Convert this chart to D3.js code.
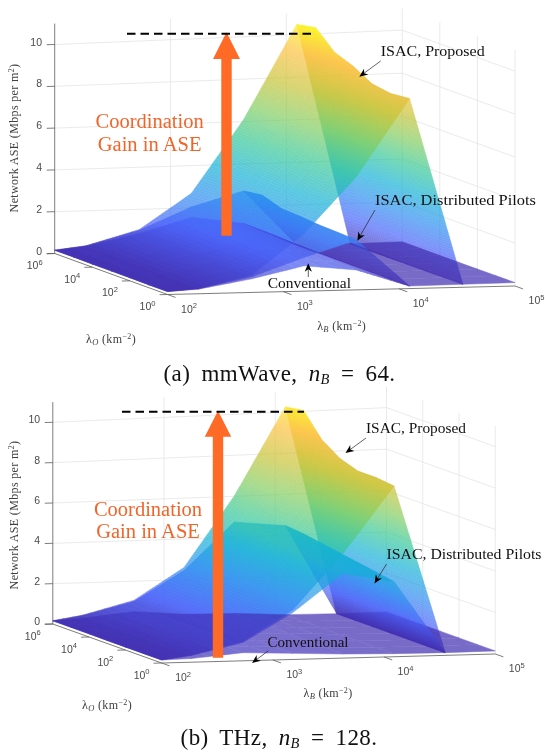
<!DOCTYPE html>
<html><head><meta charset="utf-8">
<script src="https://cdn.jsdelivr.net/npm/d3@7"></script>
<style>html,body{margin:0;padding:0;background:#fff}svg{display:block;filter:blur(0.3px)}</style>
</head><body>
<svg id="chart" width="545" height="752"></svg>
<script>
// ---- data ----
const lambdaB = [100, 186, 537, 1514, 4266, 12300, 35500, 100000];
const lambdaO = [1e6, 1e5, 1e4, 1e3, 1e2, 1e1, 1e0];
const zTicks = [0, 2, 4, 6, 8, 10];
const bTicks = [1e2, 1e3, 1e4, 1e5];
const oTicks = [1e0, 1e2, 1e4, 1e6];
const colormapStops = ["#3e26a8","#4760f9","#2b8cf0","#12b0d6","#33c796","#80cc5e","#c7c233","#fcbf3d","#f9fb14"];

// rows follow lambdaO, columns follow lambdaB
const mmProposed = [
 [.16,.33,1.04,2.69,6.09,10.47,.12,.15],
 [.16,.32,1.02,2.75,6.00,10.64,.12,.15],
 [.15,.31,1.00,2.80,5.90, 9.81,.12,.15],
 [.15,.30, .95,2.80,5.80, 9.47,.13,.15],
 [.15,.28, .90,2.80,5.60, 8.97,.13,.15],
 [.14,.26, .87,2.75,5.45, 8.83,.14,.16],
 [.14,.25, .83,2.73,5.33, 8.92,.14,.16]];
const mmDistributed = [
 [.16,.33,1.00,2.05,2.73,.12,.15,.15],
 [.16,.32, .98,2.00,2.85,.12,.15,.15],
 [.15,.30, .95,1.95,2.55,.12,.15,.15],
 [.15,.30, .90,1.85,2.50,.12,.14,.15],
 [.15,.28, .85,1.75,2.42,.12,.14,.15],
 [.14,.26, .80,1.68,2.39,.12,.14,.16],
 [.14,.24, .75,1.60,2.35,.12,.14,.16]];
const mmConventional = [
 [.16,.30,.85,1.55,1.20,.10,.15,.15],
 [.16,.29,.82,1.50,1.18,.10,.15,.15],
 [.15,.28,.80,1.45,1.12,.10,.15,.15],
 [.15,.26,.77,1.40,1.08,.11,.14,.15],
 [.15,.25,.72,1.33,1.02,.11,.14,.15],
 [.14,.23,.68,1.27, .98,.12,.14,.16],
 [.14,.22,.65,1.20, .94,.12,.14,.16]];
const thzProposed = [
 [.16,.40,1.06,2.60,6.00,10.25,.13,.15],
 [.16,.39,1.05,2.60,5.90,10.40,.13,.15],
 [.16,.38,1.03,2.60,5.75, 9.30,.13,.15],
 [.15,.37,1.00,2.55,5.60, 8.70,.13,.15],
 [.15,.37, .99,2.50,5.40, 8.40,.13,.15],
 [.15,.36, .97,2.47,5.25, 8.40,.13,.15],
 [.15,.36, .95,2.44,5.10, 8.30,.13,.15]];
const thzDistributed = [
 [.16,.38,1.00,2.45,4.74,4.48,.15,.15],
 [.16,.37, .98,2.43,4.68,4.40,.15,.15],
 [.16,.36, .96,2.40,4.60,4.25,.15,.15],
 [.15,.35, .95,2.38,4.50,4.10,.14,.15],
 [.15,.34, .93,2.35,4.40,3.95,.14,.15],
 [.15,.34, .92,2.32,4.27,3.80,.13,.15],
 [.15,.33, .90,2.30,4.15,3.65,.13,.15]];
const thzConventional = [
 [.16,.25,.50,.30,.28,.15,.13,.15],
 [.16,.24,.48,.30,.27,.15,.13,.15],
 [.16,.23,.46,.30,.26,.15,.13,.15],
 [.15,.22,.45,.30,.25,.15,.13,.15],
 [.15,.20,.43,.30,.23,.15,.13,.15],
 [.15,.19,.41,.30,.21,.15,.13,.15],
 [.15,.18,.40,.30,.20,.15,.13,.15]];

// ---- layout ----
const panels = [
 { O:[167.5,294.5], U:[347.5,-8.5], V:[-112.8,-41], zUnit:20.9,
   surfaces:[mmProposed,mmDistributed,mmConventional],
   dash:[127,315.6,33.7],
   arrow:{x:226.5,base:235.7,neck:59,tip:32.3,shaft:5.2,head:13.5},
   gain:[{t:"Coordination",y:128},{t:"Gain in ASE",y:150.7}], gainX:149.6,
   notes:[{t:"ISAC, Proposed",x:380.7,y:56,w:104,from:[380.7,61],to:[359.3,76.7]},
          {t:"ISAC, Distributed Pilots",x:375,y:205,w:161,from:[375,210],to:[357.3,240.7]},
          {t:"Conventional",x:267.7,y:288,w:83.3,from:[308.3,277],to:[308.3,263.3]}],
   zLabel:[18,138], bLabel:[341.7,330], oLabel:[111,343],
   caption:{x:279.5,y:381,pre:"(a) mmWave, ",sub:"B",post:" = 64."} },
 { O:[161.6,663], U:[333.7,-9], V:[-108.8,-39], zUnit:20.17,
   surfaces:[thzProposed,thzDistributed,thzConventional],
   dash:[122,304,411.7],
   arrow:{x:218,base:657.7,neck:436.7,tip:410.7,shaft:5.2,head:13.2},
   gain:[{t:"Coordination",y:516},{t:"Gain in ASE",y:537.5}], gainX:148,
   notes:[{t:"ISAC, Proposed",x:366,y:433,w:100,from:[366,438],to:[345.5,453]},
          {t:"ISAC, Distributed Pilots",x:386.5,y:559,w:155,from:[386.5,564],to:[374.5,583.5]},
          {t:"Conventional",x:267.5,y:647,w:81,from:[268,651],to:[252,663]}],
   zLabel:[17.5,515], bLabel:[328,697], oLabel:[107,709],
   caption:{x:279,y:745,pre:"(b) THz, ",sub:"B",post:" = 128."} }
];
const stats = {alpha:.7, zTop:11, persp:.028};

// ---- scales shared by both panels ----
const uScale = d3.scaleLog().domain([100,1e5]).range([0,1]);
const vScale = d3.scaleLog().domain([1,1e6]).range([0,1]);
const colorScale = d3.scaleLinear()
  .domain(colormapStops.map((_,i)=>i/(colormapStops.length-1)*10.75))
  .range(colormapStops).interpolate(d3.interpolateRgb).clamp(true);

const svg = d3.select("#chart");
const SANS = "'Liberation Sans',Arial,sans-serif";
const SERIF = "'Liberation Serif','Times New Roman',serif";

function sup(sel, base, exp, size){
  sel.append("tspan").text(base);
  sel.append("tspan").attr("dy",-size*.42).attr("font-size",size*.72).text(exp);
}

function drawPanel(p){
  const g = svg.append("g");
  const zScale = d3.scaleLinear().domain([0,10]).range([0,p.zUnit*10]);
  const proj = (u,v,z)=>[
    p.O[0]+u*p.U[0]+v*p.V[0],
    p.O[1]+u*p.U[1]+v*p.V[1]-zScale(z)*(1+stats.persp*u)];
  const P = (b,o,z)=>proj(uScale(b),vScale(o),z);
  const line = d3.line();

  // grid on back walls
  const grid = g.append("g").attr("fill","none").attr("stroke","#e4e4e4").attr("stroke-width",.8);
  zTicks.filter(z=>z>0).forEach(z=>{
    grid.append("path").attr("d",line([P(100,1e6,z),P(1e5,1e6,z),P(1e5,1,z)]));
  });
  bTicks.slice(1).forEach(b=>grid.append("path").attr("d",line([P(b,1e6,0),P(b,1e6,stats.zTop)])));
  oTicks.slice(0,3).forEach(o=>grid.append("path").attr("d",line([P(1e5,o,0),P(1e5,o,stats.zTop)])));

  // axes
  const axes = g.append("g").attr("fill","none").attr("stroke","#5c5c5c").attr("stroke-width",.8);
  axes.append("path").attr("d",line([P(100,1e6,0),P(100,1e6,stats.zTop)]));
  axes.append("path").attr("d",line([P(100,1e6,0),P(100,1,0),P(1e5,1,0)]));
  const vn = Math.hypot(p.V[0],p.V[1]), un = Math.hypot(p.U[0],p.U[1]);
  const tv=[-p.V[0]/vn*8.6,-p.V[1]/vn*8.6], tu=[-p.U[0]/un*8,-p.U[1]/un*8];
  bTicks.forEach(b=>{const a=P(b,1,0);axes.append("path").attr("d",line([a,[a[0]+tv[0],a[1]+tv[1]]]));});
  oTicks.forEach(o=>{const a=P(100,o,0);axes.append("path").attr("d",line([a,[a[0]+tu[0],a[1]+tu[1]]]));});
  zTicks.forEach(z=>{const a=P(100,1e6,z);axes.append("path").attr("d",line([a,[a[0]+tu[0],a[1]+tu[1]]]));});

  // tick labels
  const tl = g.append("g").attr("font-family",SANS).attr("font-size",10.5).attr("fill","#4a4a4a");
  zTicks.forEach(z=>{const a=P(100,1e6,z);
    tl.append("text").attr("x",a[0]-12.7).attr("y",a[1]+1).attr("text-anchor","end").text(z);});
  bTicks.forEach(b=>{const a=P(b,1,0);
    const t=tl.append("text").attr("x",a[0]+21.5).attr("y",a[1]+18).attr("text-anchor","middle");
    sup(t,"10",Math.round(Math.log10(b)),10.5);});
  oTicks.forEach(o=>{const a=P(100,o,0);
    const t=tl.append("text").attr("x",a[0]-20).attr("y",a[1]+15.5).attr("text-anchor","middle");
    sup(t,"10",Math.round(Math.log10(o)),10.5);});

  // axis titles
  const at = g.append("g").attr("font-family",SERIF).attr("font-size",12).attr("letter-spacing",.35).attr("fill","#404040");
  const zt = at.append("text").attr("text-anchor","middle")
    .attr("transform",`translate(${p.zLabel[0]},${p.zLabel[1]}) rotate(-90)`);
  zt.append("tspan").text("Network ASE (Mbps per m");
  zt.append("tspan").attr("dy",-3.8).attr("font-size",8).text("2");
  zt.append("tspan").attr("dy",3.8).text(")");
  [[p.bLabel,"B"],[p.oLabel,"O"]].forEach(([pos,s])=>{
    const t=at.append("text").attr("x",pos[0]).attr("y",pos[1]).attr("text-anchor","middle");
    t.append("tspan").text("λ");
    t.append("tspan").attr("dy",2.2).attr("font-size",8.5).attr("font-style","italic").text(s);
    t.append("tspan").attr("dy",-2.2).text(" (km");
    t.append("tspan").attr("dy",-3.8).attr("font-size",8).text("−2");
    t.append("tspan").attr("dy",3.8).text(")");
  });

  // surfaces: cells of one surface that face the same way merge into one translucent sheet,
  // so only real folds show; layers coinciding on the floor show once
  const surf = g.append("g");
  const floorDrawn = new Set();
  p.surfaces.forEach(Z=>{
    const sheets={back:[],front:[]};
    for(let r=0;r<lambdaO.length-1;r++){
      for(let c=lambdaB.length-2;c>=0;c--){
        const z00=Z[r][c],z01=Z[r][c+1],z10=Z[r+1][c],z11=Z[r+1][c+1];
        const flat=Math.max(z00,z01,z10,z11)<.2, key=r+"_"+c;
        if(flat&&floorDrawn.has(key)) continue;
        if(flat) floorDrawn.add(key);
        const u0=uScale(lambdaB[c]),u1=uScale(lambdaB[c+1]);
        const v0=vScale(lambdaO[r]),v1=vScale(lambdaO[r+1]);
        const nu=Math.min(70,Math.max(1,Math.ceil(Math.max(Math.abs(z01-z00),Math.abs(z11-z10))/.1)));
        const nv=Math.min(16,Math.max(1,Math.ceil(Math.max(Math.abs(z10-z00),Math.abs(z11-z01))/.1)));
        const at=(a,b)=>{
          const z=(z00*(1-a)+z01*a)*(1-b)+(z10*(1-a)+z11*a)*b;
          return {z,pt:proj(u0+(u1-u0)*a,v0+(v1-v0)*b,z)};
        };
        const side=d3.polygonArea([at(0,0),at(1,0),at(1,1),at(0,1)].map(x=>x.pt));
        const target=side>=0?sheets.front:sheets.back;
        const refSide=d3.polygonArea([proj(0,1,0),proj(1,1,0),proj(1,0,0),proj(0,0,0)]);
        const list=(side*refSide>=0)?sheets.front:sheets.back;
        for(let i=0;i<nu;i++)for(let j=0;j<nv;j++){
          const a=i/nu,a2=(i+1)/nu,b=j/nv,b2=(j+1)/nv;
          const q=[at(a,b),at(a2,b),at(a2,b2),at(a,b2)];
          list.push({d:line(q.map(x=>x.pt))+"Z",c:colorScale(d3.mean(q,x=>x.z))});
        }
      }
    }
    [sheets.back,sheets.front].forEach(patches=>{
      surf.append("g").attr("opacity",stats.alpha).selectAll("path").data(patches).join("path")
        .attr("d",d=>d.d).attr("fill",d=>d.c).attr("stroke",d=>d.c)
        .attr("stroke-width",.5).attr("stroke-linejoin","round");
    });
  });

  // annotations
  p.notes.forEach(n=>{
    g.append("text").attr("x",n.x).attr("y",n.y).attr("font-family",SERIF).attr("font-size",14.5)
      .attr("fill","#111").attr("textLength",n.w).attr("lengthAdjust","spacingAndGlyphs").text(n.t);
    const [x0,y0]=n.from,[x1,y1]=n.to;
    const L=Math.hypot(x1-x0,y1-y0),dx=(x1-x0)/L,dy=(y1-y0)/L,nx=-dy,ny=dx;
    const hl=8.5,hw=3.6,notch=6;
    g.append("path").attr("d",line([n.from,[x1-dx*notch,y1-dy*notch]])).attr("stroke","#222").attr("stroke-width",.7).attr("fill","none");
    g.append("path").attr("fill","#000").attr("d",line([
      n.to,
      [x1-dx*hl+nx*hw,y1-dy*hl+ny*hw],
      [x1-dx*notch,y1-dy*notch],
      [x1-dx*hl-nx*hw,y1-dy*hl-ny*hw]])+"Z");
  });
  const A=p.arrow;
  g.append("path").attr("fill","#ff6a26").attr("d",line([
    [A.x-A.shaft,A.base],[A.x-A.shaft,A.neck],[A.x-A.head,A.neck],[A.x,A.tip],
    [A.x+A.head,A.neck],[A.x+A.shaft,A.neck],[A.x+A.shaft,A.base]])+"Z");
  g.append("line").attr("x1",p.dash[0]).attr("x2",p.dash[1]).attr("y1",p.dash[2]).attr("y2",p.dash[2])
    .attr("stroke","#000").attr("stroke-width",2).attr("stroke-dasharray","8.5 5");
  p.gain.forEach(l=>g.append("text").attr("x",p.gainX).attr("y",l.y).attr("text-anchor","middle")
    .attr("font-family",SERIF).attr("font-size",20.5).attr("fill","#f2642a").text(l.t));

  // caption
  const c=g.append("text").attr("x",p.caption.x).attr("y",p.caption.y).attr("text-anchor","middle")
    .attr("font-family",SERIF).attr("font-size",23).attr("letter-spacing",.4).attr("word-spacing",5).attr("fill","#111");
  c.append("tspan").text(p.caption.pre);
  c.append("tspan").attr("font-style","italic").text("n");
  c.append("tspan").attr("dy",3).attr("font-size",14.5).attr("font-style","italic").text(p.caption.sub);
  c.append("tspan").attr("dy",-3).text(p.caption.post);
}
panels.forEach(drawPanel);
</script>
</body></html>
